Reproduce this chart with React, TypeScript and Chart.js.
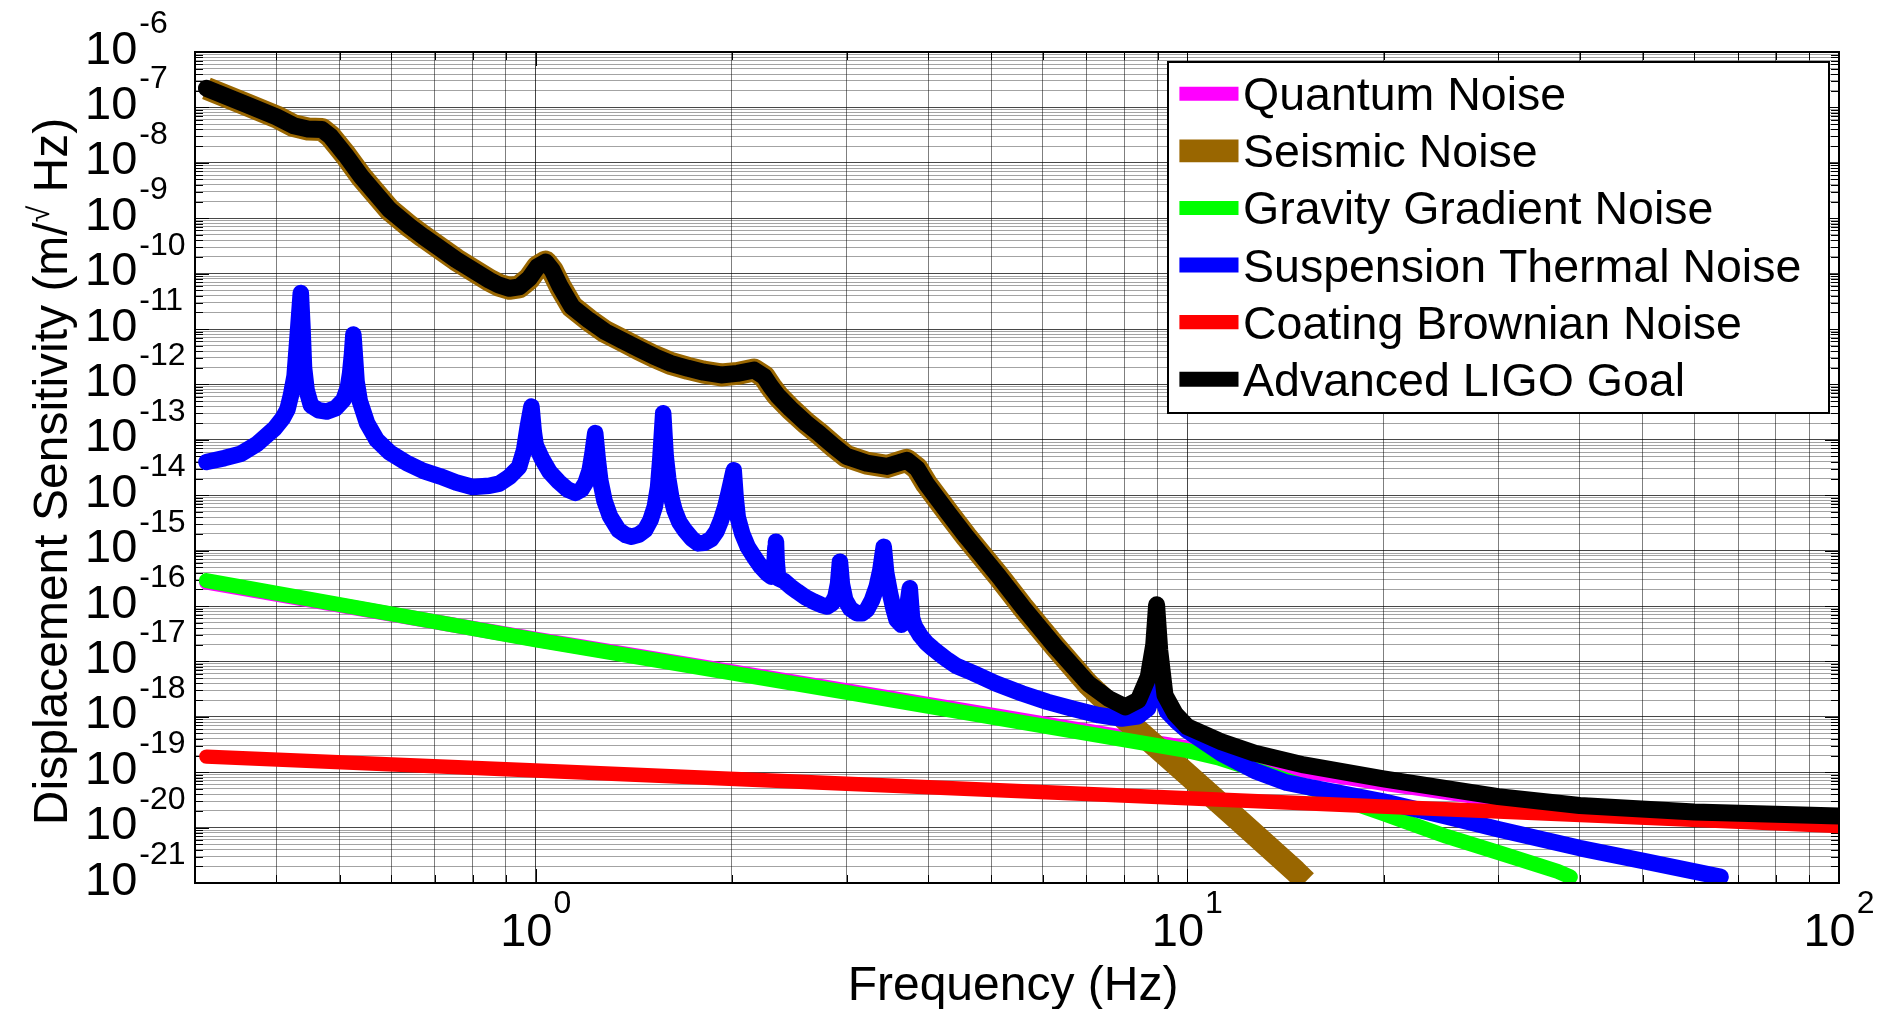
import React, { useEffect, useRef } from "react";
import { Chart, registerables } from "chart.js";

Chart.register(...registerables);

const FONT = '"Liberation Sans", Arial, Helvetica, sans-serif';

// ---- axis ranges ----
const X_MIN = 0.3124;
const X_MAX = 100;
const Y_MIN = 1e-21;
const Y_MAX = 1e-6;

// ---- tick values / labels ----
const xTickValues = [0.4, 0.5, 0.6, 0.7, 0.8, 0.9, 1, 2, 3, 4, 5, 6, 7, 8, 9, 10, 20, 30, 40, 50, 60, 70, 80, 90, 100];
const xTickLabels = [
  { value: 1, base: "10", exp: "0" },
  { value: 10, base: "10", exp: "1" },
  { value: 100, base: "10", exp: "2" },
];
const yDecadeExponents = [-21, -20, -19, -18, -17, -16, -15, -14, -13, -12, -11, -10, -9, -8, -7, -6];
const yMinorMantissas = [1, 2, 3, 4, 5, 6, 7, 8, 9];

const xTitle = "Frequency (Hz)";
const yTitleParts = ["Displacement Sensitivity (m/", "\u221A", " Hz)"];

// ---- series ----
const seriesNames = [
  "Quantum Noise",
  "Seismic Noise",
  "Gravity Gradient Noise",
  "Suspension Thermal Noise",
  "Coating Brownian Noise",
  "Advanced LIGO Goal",
];
const seriesColors = ["#ff00ff", "#996600", "#00ff00", "#0000ff", "#ff0000", "#000000"];
const seriesWidths = [15, 23, 15, 16.5, 14.5, 17];
const legendWidths = [14, 22.7, 14, 15, 14.3, 15];

const quantumFreq = [0.3124, 1, 3.11, 10, 12.7, 16, 20, 30, 40, 60, 100];
const quantumNoise = [2.69e-16, 2.51e-17, 2.75e-18, 2.75e-19, 1.58e-19, 9.55e-20, 6.31e-20, 3.16e-20, 2.09e-20, 1.51e-20, 1.26e-20];

const seismicFreq = [
  0.3124, 0.36, 0.4, 0.425, 0.447, 0.47, 0.484, 0.51, 0.54, 0.597, 0.641, 0.672, 0.755, 0.849, 0.879, 0.911, 0.943,
  0.977, 1.006, 1.036, 1.06, 1.091, 1.137, 1.206, 1.279, 1.355, 1.44, 1.523, 1.61, 1.713, 1.81, 1.925, 2.04, 2.163,
  2.242, 2.295, 2.35, 2.46, 2.6, 2.73, 2.87, 3.0, 3.22, 3.46, 3.71, 3.85, 3.98, 4.32, 4.58, 5.14, 5.58, 6.27, 7.05,
  8.0, 10, 12, 14.66, 15.2,
];
const seismicNoise = [
  2.21e-7, 1.12e-7, 6.76e-8, 4.68e-8, 4.07e-8, 3.98e-8, 3.02e-8, 1.41e-8, 5.62e-9, 1.41e-9, 7.08e-10, 4.68e-10,
  1.78e-10, 7.59e-11, 6.17e-11, 5.43e-11, 5.75e-11, 8.13e-11, 1.32e-10, 1.62e-10, 1.15e-10, 5.75e-11, 2.51e-11,
  1.45e-11, 8.91e-12, 6.31e-12, 4.37e-12, 3.16e-12, 2.4e-12, 1.95e-12, 1.66e-12, 1.48e-12, 1.58e-12, 1.82e-12,
  1.38e-12, 9.12e-13, 6.31e-13, 3.63e-13, 2.0e-13, 1.26e-13, 7.59e-14, 5.01e-14, 3.8e-14, 3.31e-14, 4.27e-14,
  3.02e-14, 1.58e-14, 4.37e-15, 1.78e-15, 3.39e-16, 9.77e-17, 1.86e-17, 3.8e-18, 9.33e-19, 9.12e-20, 1.35e-20,
  1.62e-21, 1.07e-21,
];

const gravityFreq = [0.3124, 1, 3.11, 10, 11.2, 12.7, 16, 20, 25, 30, 37, 38.7];
const gravityNoise = [2.88e-16, 2.45e-17, 2.57e-18, 2.45e-19, 1.78e-19, 1.12e-19, 4.47e-20, 1.78e-20, 6.92e-21, 3.55e-21, 1.62e-21, 1.29e-21];

const suspensionFreq = [
  0.3124, 0.333, 0.353, 0.374, 0.385, 0.397, 0.409, 0.416, 0.421, 0.4265, 0.431, 0.4335, 0.436, 0.4385, 0.441, 0.445,
  0.452, 0.465, 0.478, 0.493, 0.507, 0.515, 0.519, 0.5225, 0.525, 0.5275, 0.531, 0.537, 0.551, 0.57, 0.597, 0.634,
  0.672, 0.713, 0.755, 0.8, 0.849, 0.879, 0.911, 0.943, 0.96, 0.971, 0.985, 0.993, 1.0, 1.023, 1.05, 1.085, 1.12,
  1.151, 1.175, 1.192, 1.21, 1.222, 1.234, 1.245, 1.256, 1.275, 1.3, 1.34, 1.375, 1.404, 1.44, 1.471, 1.5, 1.523,
  1.541, 1.553, 1.569, 1.583, 1.597, 1.615, 1.633, 1.66, 1.693, 1.735, 1.774, 1.815, 1.859, 1.895, 1.925, 1.955,
  1.978, 2.0, 2.013, 2.027, 2.042, 2.075, 2.115, 2.165, 2.215, 2.265, 2.3, 2.322, 2.332, 2.337, 2.343, 2.355, 2.405,
  2.46, 2.52, 2.6, 2.672, 2.74, 2.8, 2.85, 2.884, 2.91, 2.93, 2.95, 2.985, 3.04, 3.11, 3.17, 3.222, 3.28, 3.337, 3.38,
  3.42, 3.45, 3.497, 3.54, 3.58, 3.64, 3.685, 3.708, 3.75, 3.78, 3.817, 3.89, 3.978, 4.07, 4.17, 4.29, 4.42, 4.69,
  5.085, 5.58, 6.1, 6.65, 7.31, 7.93, 8.4, 8.7, 8.9, 8.97, 9.05, 9.3, 9.6, 10, 11.27, 12.7, 14.2, 16, 20, 25, 30, 40,
  50, 65.8,
];
const suspensionNoise = [
  3.98e-14, 4.68e-14, 5.62e-14, 8.51e-14, 1.15e-13, 1.58e-13, 2.45e-13, 3.55e-13, 6.31e-13, 1.41e-12, 7.08e-12,
  1.78e-11, 4.47e-11, 1.12e-11, 2.0e-12, 7.94e-13, 4.17e-13, 3.39e-13, 3.24e-13, 3.72e-13, 5.25e-13, 8.91e-13,
  1.58e-12, 3.55e-12, 7.94e-12, 3.55e-12, 1.12e-12, 5.01e-13, 2.0e-13, 1.0e-13, 5.89e-14, 3.8e-14, 2.75e-14, 2.19e-14,
  1.7e-14, 1.41e-14, 1.48e-14, 1.62e-14, 2.14e-14, 3.24e-14, 6.61e-14, 1.58e-13, 3.98e-13, 1.41e-13, 7.94e-14,
  4.47e-14, 2.63e-14, 1.74e-14, 1.26e-14, 1.1e-14, 1.26e-14, 1.66e-14, 2.82e-14, 5.62e-14, 1.32e-13, 4.47e-14,
  1.86e-14, 7.94e-15, 4.17e-15, 2.34e-15, 1.91e-15, 1.78e-15, 1.95e-15, 2.34e-15, 3.55e-15, 6.17e-15, 1.41e-14,
  4.47e-14, 3.02e-13, 5.01e-14, 2.0e-14, 8.91e-15, 5.37e-15, 3.31e-15, 2.34e-15, 1.66e-15, 1.35e-15, 1.38e-15,
  1.62e-15, 2.24e-15, 3.55e-15, 6.31e-15, 1.12e-14, 2.0e-14, 2.82e-14, 8.91e-15, 3.98e-15, 2.0e-15, 1.17e-15,
  7.59e-16, 5.13e-16, 3.89e-16, 3.39e-16, 4.47e-16, 1.12e-15, 1.45e-15, 6.31e-16, 3.16e-16, 2.82e-16, 2.24e-16,
  1.82e-16, 1.41e-16, 1.2e-16, 1.05e-16, 9.77e-17, 1.12e-16, 1.48e-16, 2.51e-16, 6.31e-16, 2.51e-16, 1.29e-16,
  8.91e-17, 7.41e-17, 7.41e-17, 8.51e-17, 1.26e-16, 2.24e-16, 4.47e-16, 1.17e-15, 3.98e-16, 1.7e-16, 8.91e-17,
  5.62e-17, 4.57e-17, 5.62e-17, 7.94e-17, 2.09e-16, 6.03e-17, 4.27e-17, 2.95e-17, 2.14e-17, 1.7e-17, 1.35e-17,
  1.05e-17, 8.32e-18, 6.17e-18, 3.98e-18, 2.63e-18, 1.86e-18, 1.41e-18, 1.07e-18, 9.33e-19, 1.02e-18, 1.41e-18,
  3.16e-18, 1.58e-17, 3.55e-18, 1.26e-18, 8.51e-19, 5.62e-19, 2.19e-19, 1.05e-19, 6.46e-20, 4.9e-20, 2.95e-20,
  1.58e-20, 9.33e-21, 4.27e-21, 2.51e-21, 1.29e-21,
];

const coatingFreq = [0.3124, 1, 3, 10, 30, 100];
const coatingNoise = [1.91e-19, 1.07e-19, 6.17e-20, 3.39e-20, 1.95e-20, 1.07e-20];

const goalFreq = [
  0.3124, 0.36, 0.4, 0.425, 0.447, 0.47, 0.484, 0.51, 0.54, 0.597, 0.641, 0.672, 0.755, 0.849, 0.879, 0.911, 0.943,
  0.977, 1.006, 1.036, 1.06, 1.091, 1.137, 1.206, 1.279, 1.355, 1.44, 1.523, 1.61, 1.713, 1.81, 1.925, 2.04, 2.163,
  2.242, 2.295, 2.35, 2.46, 2.6, 2.73, 2.87, 3.0, 3.22, 3.46, 3.71, 3.85, 3.98, 4.32, 4.58, 5.14, 5.58, 6.27, 7.05,
  7.57, 8.03, 8.41, 8.71, 8.88, 8.97, 9.07, 9.24, 9.57, 10, 11.27, 12.7, 15.1, 20, 30, 40, 60, 100,
];
const goalNoise = [
  2.21e-7, 1.12e-7, 6.76e-8, 4.68e-8, 4.07e-8, 3.98e-8, 3.02e-8, 1.41e-8, 5.62e-9, 1.41e-9, 7.08e-10, 4.68e-10,
  1.78e-10, 7.59e-11, 6.17e-11, 5.43e-11, 5.75e-11, 8.13e-11, 1.32e-10, 1.62e-10, 1.15e-10, 5.75e-11, 2.51e-11,
  1.45e-11, 8.91e-12, 6.31e-12, 4.37e-12, 3.16e-12, 2.4e-12, 1.95e-12, 1.66e-12, 1.48e-12, 1.58e-12, 1.82e-12,
  1.38e-12, 9.12e-13, 6.31e-13, 3.63e-13, 2.0e-13, 1.26e-13, 7.59e-14, 5.01e-14, 3.8e-14, 3.31e-14, 4.27e-14,
  3.02e-14, 1.58e-14, 4.37e-15, 1.78e-15, 3.39e-16, 9.77e-17, 1.86e-17, 3.98e-18, 2.14e-18, 1.51e-18, 2.0e-18,
  5.25e-18, 2.0e-17, 1.05e-16, 1.58e-17, 2.45e-18, 1.15e-18, 6.61e-19, 3.55e-19, 2.19e-19, 1.35e-19, 7.59e-20,
  3.63e-20, 2.51e-20, 1.91e-20, 1.62e-20,
];

const seriesFreqs = [quantumFreq, seismicFreq, gravityFreq, suspensionFreq, coatingFreq, goalFreq];
const seriesValues = [quantumNoise, seismicNoise, gravityNoise, suspensionNoise, coatingNoise, goalNoise];

const isMajor = (v: number) => Math.abs(Math.log10(v) - Math.round(Math.log10(v))) < 1e-6;

const yTickValues: number[] = [];
yDecadeExponents.forEach((e) => {
  yMinorMantissas.forEach((m) => {
    const v = m * Math.pow(10, e);
    if (v >= Y_MIN * 0.999 && v <= Y_MAX * 1.001) yTickValues.push(v);
  });
});

const font = (px: number) => `${px}px ${FONT}`;

const decoPlugin = {
  id: "matlabDeco",
  beforeDraw(chart: any) {
    const { ctx, width, height } = chart;
    ctx.save();
    ctx.fillStyle = "#ffffff";
    ctx.fillRect(0, 0, width, height);
    ctx.restore();
  },
  beforeDatasetsDraw(chart: any) {
    const { ctx, chartArea: a } = chart;
    const xs = chart.scales.x;
    const ys = chart.scales.y;
    ctx.save();
    ctx.strokeStyle = "#000000";
    ctx.lineWidth = 1;
    ctx.beginPath();
    xTickValues.forEach((v) => {
      const px = Math.round(xs.getPixelForValue(v)) + 0.5;
      const len = isMajor(v) ? 14 : 8;
      ctx.moveTo(px, a.bottom);
      ctx.lineTo(px, a.bottom - len);
      ctx.moveTo(px, a.top);
      ctx.lineTo(px, a.top + len);
    });
    yTickValues.forEach((v) => {
      const py = Math.round(ys.getPixelForValue(v)) + 0.5;
      const len = isMajor(v) ? 14 : 8;
      ctx.moveTo(a.left, py);
      ctx.lineTo(a.left + len, py);
      ctx.moveTo(a.right, py);
      ctx.lineTo(a.right - len, py);
    });
    ctx.stroke();
    ctx.restore();
  },
  afterDraw(chart: any) {
    const { ctx, chartArea: a } = chart;
    const xs = chart.scales.x;
    const ys = chart.scales.y;
    ctx.save();
    // axes box
    ctx.strokeStyle = "#000000";
    ctx.lineWidth = 2;
    ctx.strokeRect(a.left, a.top, a.right - a.left, a.bottom - a.top);

    ctx.fillStyle = "#000000";
    ctx.textBaseline = "alphabetic";
    ctx.textAlign = "left";

    // y tick labels
    yDecadeExponents.forEach((e) => {
      const py = ys.getPixelForValue(Math.pow(10, e));
      const baseX = a.left - 110;
      ctx.font = font(47);
      ctx.fillText("10", baseX, py + 11.5);
      const bw = ctx.measureText("10").width;
      ctx.font = font(32);
      ctx.fillText(String(e), baseX + bw + 2, py - 19);
    });

    // x tick labels
    xTickLabels.forEach((t) => {
      const px = xs.getPixelForValue(t.value);
      ctx.font = font(47);
      const bw = ctx.measureText(t.base).width;
      ctx.font = font(32);
      const ew = ctx.measureText(t.exp).width;
      const x0 = px - (bw + 1 + ew) / 2;
      ctx.font = font(47);
      ctx.fillText(t.base, x0, a.bottom + 63);
      ctx.font = font(32);
      ctx.fillText(t.exp, x0 + bw + 1, a.bottom + 30);
    });

    // x title
    ctx.font = font(48);
    ctx.textAlign = "center";
    ctx.fillText(xTitle, (a.left + a.right) / 2 - 4, a.bottom + 117);

    // y title (rotated, with raised surd)
    ctx.textAlign = "left";
    const sizes = [48, 30, 48];
    const rises = [0, 18, 0];
    const widths = yTitleParts.map((p, i) => {
      ctx.font = font(sizes[i]);
      return ctx.measureText(p).width;
    });
    const total = widths.reduce((s, w) => s + w, 0);
    ctx.save();
    ctx.translate(a.left - 128, (a.top + a.bottom) / 2 + 4);
    ctx.rotate(-Math.PI / 2);
    let cx = -total / 2;
    yTitleParts.forEach((p, i) => {
      ctx.font = font(sizes[i]);
      ctx.fillText(p, cx, -rises[i]);
      cx += widths[i];
    });
    ctx.restore();

    // legend
    const lx = a.right - 671;
    const ly = a.top + 10;
    const lw = 661;
    const lh = 351;
    ctx.fillStyle = "#ffffff";
    ctx.fillRect(lx, ly, lw, lh);
    ctx.strokeStyle = "#000000";
    ctx.lineWidth = 2;
    ctx.strokeRect(lx, ly, lw, lh);
    const dsets = chart.data.datasets;
    dsets.forEach((ds: any, i: number) => {
      const rowY = ly + 31.7 + i * 57.1;
      ctx.strokeStyle = ds.borderColor;
      ctx.lineWidth = legendWidths[i];
      ctx.lineCap = "butt";
      ctx.beginPath();
      ctx.moveTo(lx + 11.4, rowY);
      ctx.lineTo(lx + 70.5, rowY);
      ctx.stroke();
      ctx.fillStyle = "#000000";
      ctx.font = font(46.5);
      ctx.fillText(ds.label, lx + 75, rowY + 16.5);
    });
    ctx.restore();
  },
};

export default function App() {
  const canvasRef = useRef<HTMLCanvasElement | null>(null);

  useEffect(() => {
    const canvas = canvasRef.current;
    if (!canvas) return;
    const datasets = seriesNames.map((name, i) => ({
      label: name,
      data: seriesFreqs[i].map((f, j) => ({ x: f, y: seriesValues[i][j] })),
      borderColor: seriesColors[i],
      backgroundColor: seriesColors[i],
      borderWidth: seriesWidths[i],
      borderJoinStyle: "round",
      borderCapStyle: i === 1 ? "butt" : "round",
      pointRadius: 0,
      pointHoverRadius: 0,
      tension: 0,
      fill: false,
      clip: 0,
      order: seriesNames.length - i,
    }));

    const gridColor = (c: any) => (c.tick && isMajor(c.tick.value) ? "rgba(0,0,0,0.72)" : "rgba(0,0,0,0.36)");
    const vGridColor = (c: any) => (c.tick && isMajor(c.tick.value) ? "rgba(0,0,0,0.72)" : "rgba(0,0,0,0.5)");

    const chart = new Chart(canvas, {
      type: "line",
      data: { datasets: datasets as any },
      options: {
        responsive: false,
        animation: false,
        devicePixelRatio: 1,
        parsing: false as any,
        normalized: true,
        layout: { padding: { left: 195, top: 52, right: 45, bottom: 126 } },
        plugins: { legend: { display: false }, tooltip: { enabled: false } },
        events: [],
        scales: {
          x: {
            type: "logarithmic",
            min: X_MIN,
            max: X_MAX,
            afterBuildTicks: (scale: any) => {
              scale.ticks = xTickValues.map((v) => ({ value: v, major: isMajor(v) }));
            },
            ticks: { display: false },
            grid: { color: vGridColor, lineWidth: 1, drawTicks: false },
            border: { display: false },
            title: { display: false },
          },
          y: {
            type: "logarithmic",
            min: Y_MIN,
            max: Y_MAX,
            afterBuildTicks: (scale: any) => {
              scale.ticks = yTickValues.map((v) => ({ value: v, major: isMajor(v) }));
            },
            ticks: { display: false },
            grid: { color: gridColor, lineWidth: 1, drawTicks: false },
            border: { display: false },
            title: { display: false },
          },
        },
      } as any,
      plugins: [decoPlugin as any],
    });
    return () => chart.destroy();
  }, []);

  return (
    <div style={{ position: "fixed", left: 0, top: 0, width: 1884, height: 1009, background: "#fff" }}>
      <canvas ref={canvasRef} width={1884} height={1009} style={{ display: "block" }} />
    </div>
  );
}
